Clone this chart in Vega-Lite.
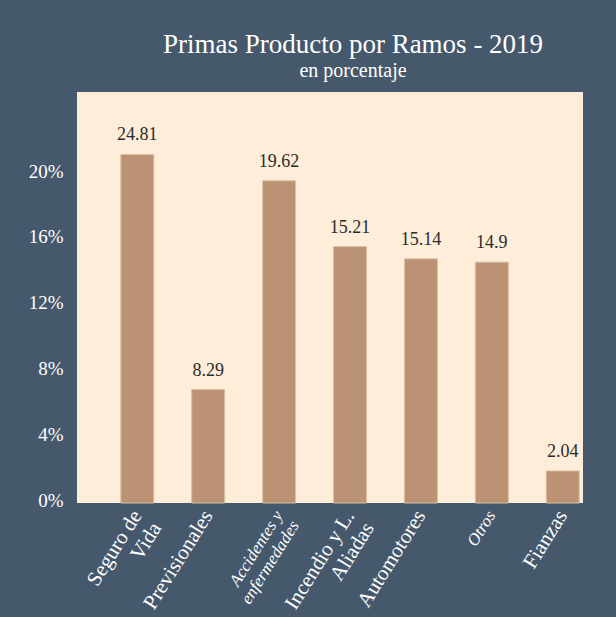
{
  "$schema": "https://vega.github.io/schema/vega-lite/v6.json",
  "width": 506,
  "height": 411,
  "autosize": {"type": "none"},
  "padding": {"left": 77, "top": 92, "right": 33, "bottom": 114},
  "background": "#45586c",
  "title": {
    "text": "Primas Producto por Ramos - 2019",
    "subtitle": "en porcentaje",
    "anchor": "middle",
    "dx": 23,
    "offset": 10,
    "subtitlePadding": 2
  },
  "config": {
    "view": {"fill": "#feeed9", "stroke": null},
    "font": "Liberation Serif",
    "title": {
      "font": "Liberation Serif",
      "subtitleFont": "Liberation Serif",
      "fontSize": 27,
      "subtitleFontSize": 20,
      "fontWeight": "normal",
      "color": "white",
      "subtitleColor": "white"
    }
  },
  "data": {
    "values": [
      {"ramo": "Seguro de Vida", "pct": 21.2, "etiqueta": 24.81},
      {"ramo": "Previsionales", "pct": 6.9, "etiqueta": 8.29},
      {"ramo": "Accidentes y enfermedades", "pct": 19.6, "etiqueta": 19.62},
      {"ramo": "Incendio y L. Aliadas", "pct": 15.6, "etiqueta": 15.21},
      {"ramo": "Automotores", "pct": 14.85, "etiqueta": 15.14},
      {"ramo": "Otros", "pct": 14.65, "etiqueta": 14.9},
      {"ramo": "Fianzas", "pct": 1.95, "etiqueta": 2.04}
    ]
  },
  "encoding": {
    "x": {
      "field": "ramo",
      "type": "nominal",
      "sort": null,
      "scale": {"paddingInner": 0.535, "paddingOuter": 0.336, "align": 0.92},
      "axis": {
        "title": null,
        "labelAngle": -58,
        "labelColor": "white",
        "labelFont": "Liberation Serif",
        "labelFontSize": {"condition": {"test": "indexof(['Otros','Accidentes y enfermedades'], datum.value) >= 0", "value": 17}, "value": 21},
        "labelFontStyle": {"condition": {"test": "indexof(['Otros','Accidentes y enfermedades'], datum.value) >= 0", "value": "italic"}, "value": "normal"},
        "labelPadding": 9,
        "labelLimit": 250,
        "ticks": false,
        "domain": false,
        "labelExpr": "datum.label == 'Seguro de Vida' ? ['Seguro de', 'Vida'] : datum.label == 'Accidentes y enfermedades' ? ['Accidentes y', 'enfermedades'] : datum.label == 'Incendio y L. Aliadas' ? ['Incendio y L.', 'Aliadas'] : datum.label"
      }
    }
  },
  "layer": [
    {
      "mark": {"type": "bar", "color": "#bb9273", "stroke": "#dcc0a3", "strokeWidth": 1},
      "encoding": {
        "y": {
          "field": "pct",
          "type": "quantitative",
          "scale": {"domain": [0, 25], "nice": false},
          "axis": {
            "title": null,
            "values": [0, 4, 8, 12, 16, 20],
            "labelExpr": "datum.value + '%'",
            "labelColor": "white",
            "labelFont": "Liberation Serif",
            "labelFontSize": 19,
            "labelPadding": 14,
            "labelOffset": -3,
            "ticks": false,
            "domain": false,
            "grid": false
          }
        }
      }
    },
    {
      "mark": {"type": "text", "dy": -19, "fontSize": 18, "color": "#2b2b2b", "font": "Liberation Serif"},
      "encoding": {
        "y": {"field": "pct", "type": "quantitative"},
        "text": {"field": "etiqueta", "type": "nominal"}
      }
    }
  ]
}
